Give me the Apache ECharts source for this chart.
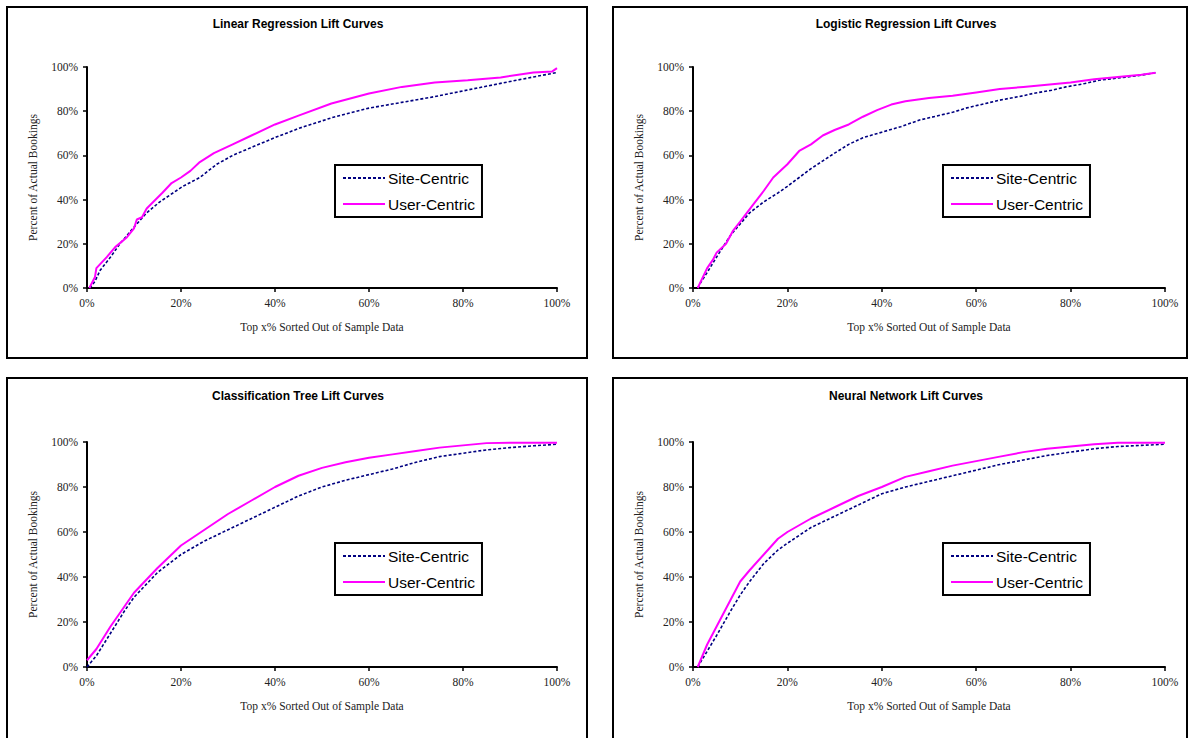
<!DOCTYPE html>
<html><head><meta charset="utf-8">
<script src="https://cdn.jsdelivr.net/npm/echarts@6/dist/echarts.min.js"></script>
<style>html,body{margin:0;padding:0;background:#fff}#c{width:1188px;height:738px}</style>
</head><body><div id="c"></div>
<script>
// ---------------- data ----------------
const titles = ['Linear Regression Lift Curves', 'Logistic Regression Lift Curves',
                'Classification Tree Lift Curves', 'Neural Network Lift Curves'];
const seriesNames = ['Site-Centric', 'User-Centric'];
const xAxisName = 'Top x% Sorted Out of Sample Data';
const yAxisName = 'Percent of Actual Bookings';
const tickValues = [0, 20, 40, 60, 80, 100];

// [top x %, percent of actual bookings]
const linearSite = [[0.6,0],[1.7,3],[2.8,8],[5,14],[7,20],[10,27.5],[12.7,34],[15.5,39],[18.3,43],[20.4,46],[24,50],[27.6,56],[31,60],[35.4,64],[40.4,68.4],[45.3,72.4],[52,77],[60,81.4],[67,84],[74,86.6],[81,89.6],[88,92.6],[95,95.5],[100,97.5]];
const linearUser = [[0.5,0],[1.7,5],[2,9],[4.2,14],[6,18.5],[8.5,23],[10,27],[10.6,31],[11.7,32],[12.7,36],[16,43],[18,47.5],[20,50],[22,53],[24,57],[27,61],[31,65],[35,69],[40,74],[45,78],[52,83.5],[60,88],[67,91],[74,93],[81,94],[88,95.3],[95,97.5],[99,98],[100,99.5]];

const logisticSite = [[1,0],[1.5,2],[3,7],[5,14],[8,24],[10,29],[12,34],[15,39],[18,43],[20,46],[22.5,50],[25,54],[27.5,57.5],[30,61],[33,65],[36,68],[40,70.5],[44,73],[48,76],[51,77.5],[55,79.5],[58,81.5],[62,83.5],[65,85],[70,87],[72,88],[76,89.5],[79,91],[83,92.5],[86,94],[90,95],[94,96],[98,97.4]];
const logisticUser = [[1,0],[3,9],[4.2,12.7],[5,16],[7,20],[8.5,26],[10,30],[12.5,37],[15,44],[17,50],[20,56],[22.5,62],[25,65],[27.5,69],[30,71.5],[33,74],[36,77.5],[39,80.5],[42,83],[45,84.5],[50,86],[55,87],[60,88.5],[65,90],[70,91],[75,92],[80,93],[85,94.5],[90,95.5],[95,96.5],[98,97.4]];

const treeSite = [[0,0],[2,5],[5,15],[8,25],[10,31],[15,42],[20,50],[25,56],[30,61],[35,66],[40,71],[45,76],[50,80],[55,83],[60,85.5],[65,88],[70,91],[75,93.5],[80,95],[85,96.5],[90,97.5],[95,98.3],[100,99]];
const treeUser = [[0,3],[2,8],[5,18],[8,27],[10,33],[15,44],[20,54],[25,61],[30,68],[35,74],[40,80],[45,85],[50,88.5],[55,91],[60,93],[65,94.5],[70,96],[75,97.5],[80,98.5],[85,99.5],[90,99.7],[95,99.7],[100,99.7]];

const neuralSite = [[1,0],[3,7],[5,14],[8,25],[10,32],[12,38],[15,46],[18,52],[20,55],[25,62],[30,67],[35,72],[40,77],[45,80],[50,82.5],[55,85],[60,87.5],[65,90],[70,92],[75,94],[80,95.5],[85,97],[90,98],[95,98.5],[100,99]];
const neuralUser = [[1,0],[3,10],[5,18],[8,30],[10,38],[12,43],[15,50],[18,57],[20,60],[25,66],[30,71],[35,76],[40,80],[45,84.5],[50,87],[55,89.5],[60,91.5],[65,93.5],[70,95.5],[75,97],[80,98],[85,99],[90,99.7],[100,99.7]];

const panelSite = [linearSite, logisticSite, treeSite, neuralSite];
const panelUser = [linearUser, logisticUser, treeUser, neuralUser];

// ---------------- layout / style ----------------
const layout = [
  {grid:{left:87, top:67, width:470, height:221}, titleX:298, titleY:24, legend:{left:335, top:165}, box:[7,7,580,351]},
  {grid:{left:693, top:67, width:472, height:221}, titleX:906, titleY:24, legend:{left:943, top:165}, box:[613,7,574,351]},
  {grid:{left:87, top:442, width:470, height:225}, titleX:298, titleY:396, legend:{left:335, top:543}, box:[7,378,580,370]},
  {grid:{left:693, top:442, width:472, height:225}, titleX:906, titleY:396, legend:{left:943, top:543}, box:[613,378,574,370]}
];
const serif = "'Liberation Serif','Times New Roman',serif";
const sans = "'Liberation Sans',Arial,sans-serif";
const siteColor = '#000080';
const userColor = '#FF00FF';

const grids = [], xAxes = [], yAxes = [], series = [], legends = [], graphics = [];
layout.forEach((L, i) => {
  grids.push(L.grid);
  const axisCommon = {
    type: 'value', min: tickValues[0], max: tickValues[tickValues.length - 1], interval: 20,
    gridIndex: i, splitLine: {show: false},
    axisLine: {show: true, lineStyle: {color: '#000', width: 2}},
    axisTick: {show: true, length: 4, lineStyle: {color: '#000', width: 1.5}},
    axisLabel: {formatter: '{value}%', color: '#222', fontFamily: serif, fontSize: 11.5},
    nameLocation: 'middle',
    nameTextStyle: {color: '#222', fontFamily: serif, fontSize: 11.5}
  };
  xAxes.push(Object.assign({}, axisCommon, {name: xAxisName, nameGap: 33,
    axisLabel: Object.assign({}, axisCommon.axisLabel, {margin: 9})}));
  yAxes.push(Object.assign({}, axisCommon, {name: yAxisName, nameGap: 48, nameRotate: 90,
    axisLabel: Object.assign({}, axisCommon.axisLabel, {margin: 9})}));
  series.push({
    name: seriesNames[0], type: 'line', xAxisIndex: i, yAxisIndex: i, data: panelSite[i],
    symbol: 'none', showSymbol: false, color: siteColor,
    lineStyle: {color: siteColor, width: 1.6, type: [3, 2]}, z: 2
  });
  series.push({
    name: seriesNames[1], type: 'line', xAxisIndex: i, yAxisIndex: i, data: panelUser[i],
    symbol: 'none', showSymbol: false, color: userColor,
    lineStyle: {color: userColor, width: 2}, z: 3
  });
  legends.push({
    data: seriesNames, orient: 'vertical', left: L.legend.left, top: L.legend.top,
    selectedMode: false, backgroundColor: '#fff', borderColor: '#000', borderWidth: 2, borderRadius: 0,
    padding: [4, 7, 4, 7], itemGap: 8, itemWidth: 42, itemHeight: 14,
    itemStyle: {color: 'rgba(0,0,0,0)', borderColor: 'rgba(0,0,0,0)', borderWidth: 0, opacity: 0},
    textStyle: {fontFamily: sans, fontSize: 15.5, color: '#000', lineHeight: 18, padding: [0, 0, 0, -2]}
  });
  graphics.push({type: 'rect', silent: true, z: 100,
    shape: {x: L.box[0], y: L.box[1], width: L.box[2], height: L.box[3]},
    style: {fill: null, stroke: '#000', lineWidth: 2}});
  graphics.push({type: 'text', silent: true, x: L.titleX, y: L.titleY,
    style: {text: titles[i], align: 'center', verticalAlign: 'middle',
            font: 'bold 12px ' + sans, fill: '#000'}});
});

const chart = echarts.init(document.getElementById('c'), null, {renderer: 'svg'});
chart.setOption({
  animation: false,
  backgroundColor: '#fff',
  grid: grids, xAxis: xAxes, yAxis: yAxes, series: series,
  legend: legends, graphic: graphics
});
</script></body></html>
